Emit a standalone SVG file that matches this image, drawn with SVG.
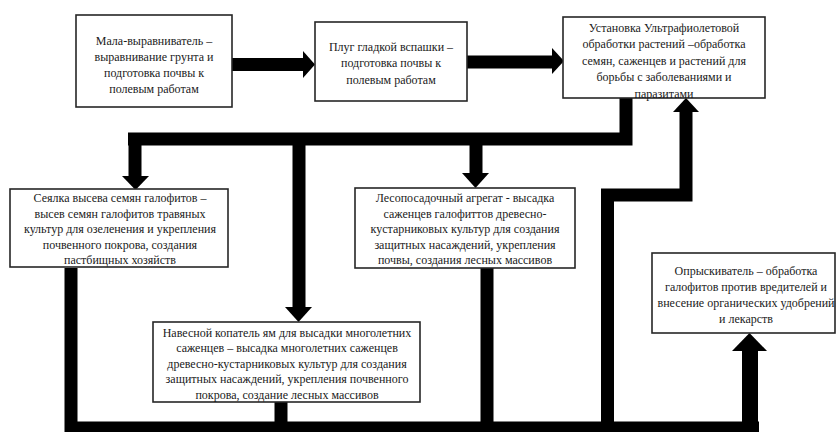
<svg xmlns="http://www.w3.org/2000/svg" width="836" height="432" viewBox="0 0 836 432">
<style>
.box{fill:#fff;stroke:#262626;stroke-width:1.6}
.t{font-family:"Liberation Serif","Times New Roman",serif;font-size:12px;fill:#1a1a1a;text-anchor:middle}
.ln{fill:none;stroke:#000;stroke-width:13;stroke-linejoin:miter;stroke-linecap:butt}
.hd{fill:#000}
</style>
<rect width="836" height="432" fill="#fff"/>
<g id="connectors">
<path class="ln" d="M232,64.5H305"/>
<polygon class="hd" points="303,51 315,64.5 303,78"/>
<path class="ln" d="M467,62H554"/>
<polygon class="hd" points="552,48 564,61 552,74"/>
<path class="ln" d="M626,98V139H128"/>
<path class="ln" d="M135,139V178"/>
<polygon class="hd" points="122,176 135.5,190 149,176"/>
<path class="ln" d="M299,139V309"/>
<polygon class="hd" points="285,307 298.5,322 312,307"/>
<path class="ln" d="M476,139V175"/>
<polygon class="hd" points="462,173 475.5,188 489,173"/>
<path class="ln" d="M71,268V428H759"/>
<path class="ln" d="M281,402V428"/>
<path class="ln" d="M487,268V428"/>
<path class="ln" d="M607.5,428V195H686V110"/>
<polygon class="hd" points="673,112 686,98 699,112"/>
<path class="ln" d="M750,428V349" style="stroke-width:16"/>
<polygon class="hd" points="732,351 749.5,333 767,351"/>
</g>
<g id="n1">
<rect class="box" x="76" y="15" width="156" height="92"/>
<text class="t" x="154" y="44.5">Мала-выравниватель –</text>
<text class="t" x="154" y="60.5">выравнивание грунта и</text>
<text class="t" x="154" y="76.5">подготовка почвы к</text>
<text class="t" x="154" y="92.5">полевым работам</text>
</g>
<g id="n2">
<rect class="box" x="315" y="22" width="152" height="79"/>
<text class="t" x="391" y="50.5">Плуг гладкой вспашки –</text>
<text class="t" x="391" y="67">подготовка почвы к</text>
<text class="t" x="391" y="83.5">полевым работам</text>
</g>
<g id="n3">
<rect class="box" x="563" y="17" width="202" height="81"/>
<text class="t" x="664" y="31.5">Установка Ультрафиолетовой</text>
<text class="t" x="664" y="48">обработки растений –обработка</text>
<text class="t" x="664" y="64.5">семян, саженцев и растений для</text>
<text class="t" x="664" y="81">борьбы с заболеваниями и</text>
<text class="t" x="664" y="97.5">паразитами</text>
</g>
<g id="n4">
<rect class="box" x="10" y="189" width="218" height="78"/>
<text class="t" x="120" y="202">Сеялка высева семян галофитов –</text>
<text class="t" x="120" y="217.5">высев семян галофитов травяных</text>
<text class="t" x="120" y="233">культур для озеленения и укрепления</text>
<text class="t" x="120" y="248.5">почвенного покрова, создания</text>
<text class="t" x="120" y="264">пастбищных хозяйств</text>
</g>
<g id="n5">
<rect class="box" x="355" y="188" width="220" height="80"/>
<text class="t" x="465" y="202">Лесопосадочный агрегат - высадка</text>
<text class="t" x="465" y="217.5">саженцев галофиттов древесно-</text>
<text class="t" x="465" y="233">кустарниковых культур для создания</text>
<text class="t" x="465" y="248.5">защитных насаждений, укрепления</text>
<text class="t" x="465" y="264">почвы, создания лесных массивов</text>
</g>
<g id="n6">
<rect class="box" x="153" y="322" width="267" height="80"/>
<text class="t" x="287" y="336.5">Навесной копатель ям для высадки многолетних</text>
<text class="t" x="287" y="352">саженцев – высадка многолетних саженцев</text>
<text class="t" x="287" y="367.5">древесно-кустарниковых культур для создания</text>
<text class="t" x="287" y="383">защитных насаждений, укрепления почвенного</text>
<text class="t" x="287" y="398.5">покрова, создание лесных массивов</text>
</g>
<g id="n7">
<rect class="box" x="652" y="253" width="183" height="80"/>
<text class="t" x="746" y="274.5">Опрыскиватель – обработка</text>
<text class="t" x="746" y="290.5">галофитов против вредителей и</text>
<text class="t" x="746" y="306.5">внесение органических удобрений</text>
<text class="t" x="746" y="322.5">и лекарств</text>
</g>
</svg>
